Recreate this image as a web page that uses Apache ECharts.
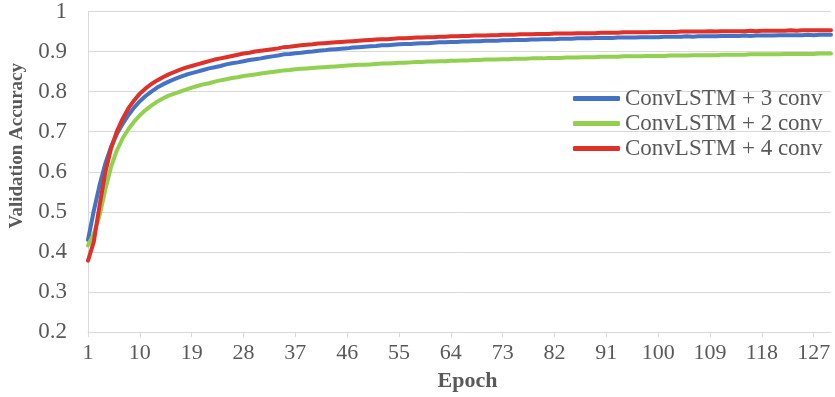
<!DOCTYPE html>
<html>
<head>
<meta charset="utf-8">
<script src="https://cdn.jsdelivr.net/npm/echarts@6/dist/echarts.min.js"></script>
<style>
  html, body { margin: 0; padding: 0; background: #fff; }
  #chart { width: 835px; height: 397px; }
</style>
</head>
<body>
<div id="chart"></div>
<script>
// Validation accuracy per training epoch for three ConvLSTM variants
const epochs = Array.from({ length: 130 }, (_, i) => String(i + 1));

const seriesNames = ['ConvLSTM + 3 conv', 'ConvLSTM + 2 conv', 'ConvLSTM + 4 conv'];

const conv3 = [
  0.430,0.502,0.566,0.620,0.662,0.694,0.719,0.741,0.760,0.776,
  0.789,0.800,0.810,0.818,0.825,0.831,0.837,0.842,0.846,0.850,
  0.854,0.858,0.861,0.864,0.868,0.871,0.873,0.876,0.879,0.881,
  0.883,0.886,0.888,0.890,0.893,0.894,0.896,0.897,0.899,0.900,
  0.902,0.903,0.905,0.906,0.907,0.908,0.910,0.911,0.912,0.913,
  0.914,0.916,0.916,0.917,0.918,0.919,0.919,0.920,0.921,0.921,
  0.922,0.923,0.923,0.924,0.924,0.925,0.925,0.926,0.926,0.927,
  0.927,0.927,0.928,0.928,0.929,0.929,0.929,0.930,0.930,0.931,
  0.931,0.931,0.932,0.932,0.932,0.933,0.933,0.933,0.934,0.934,
  0.934,0.934,0.935,0.935,0.935,0.935,0.936,0.936,0.936,0.936,
  0.937,0.937,0.937,0.937,0.938,0.937,0.938,0.938,0.938,0.938,
  0.939,0.939,0.939,0.939,0.940,0.939,0.940,0.940,0.940,0.940,
  0.941,0.941,0.941,0.941,0.941,0.942,0.941,0.942,0.942,0.942
];

const conv2 = [
  0.416,0.445,0.490,0.555,0.612,0.653,0.683,0.706,0.725,0.741,
  0.754,0.765,0.775,0.783,0.790,0.795,0.800,0.805,0.810,0.814,
  0.818,0.821,0.825,0.828,0.831,0.834,0.836,0.839,0.841,0.843,
  0.845,0.847,0.849,0.851,0.853,0.854,0.856,0.857,0.858,0.859,
  0.860,0.861,0.862,0.863,0.864,0.865,0.866,0.867,0.867,0.868,
  0.869,0.870,0.870,0.871,0.872,0.872,0.873,0.874,0.874,0.875,
  0.875,0.876,0.876,0.877,0.877,0.878,0.878,0.879,0.879,0.880,
  0.880,0.880,0.881,0.881,0.882,0.882,0.882,0.883,0.883,0.883,
  0.884,0.884,0.884,0.885,0.885,0.885,0.886,0.886,0.886,0.887,
  0.887,0.887,0.887,0.888,0.888,0.888,0.888,0.889,0.889,0.889,
  0.889,0.890,0.890,0.890,0.890,0.891,0.891,0.891,0.891,0.891,
  0.892,0.892,0.892,0.892,0.892,0.893,0.893,0.893,0.893,0.893,
  0.893,0.894,0.894,0.894,0.894,0.894,0.894,0.895,0.895,0.895
];

const conv4 = [
  0.378,0.425,0.515,0.598,0.658,0.700,0.732,0.758,0.778,0.795,
  0.808,0.819,0.828,0.836,0.843,0.849,0.855,0.860,0.864,0.868,
  0.872,0.876,0.880,0.883,0.886,0.889,0.892,0.895,0.897,0.900,
  0.902,0.904,0.906,0.908,0.911,0.912,0.914,0.916,0.917,0.918,
  0.920,0.921,0.922,0.923,0.924,0.925,0.926,0.927,0.928,0.929,
  0.930,0.931,0.931,0.932,0.933,0.933,0.934,0.935,0.935,0.936,
  0.936,0.937,0.937,0.938,0.938,0.939,0.939,0.940,0.940,0.940,
  0.941,0.941,0.942,0.942,0.942,0.943,0.943,0.943,0.944,0.944,
  0.944,0.945,0.945,0.945,0.945,0.946,0.946,0.946,0.946,0.947,
  0.947,0.947,0.947,0.948,0.948,0.948,0.948,0.948,0.949,0.949,
  0.949,0.949,0.949,0.950,0.950,0.950,0.950,0.950,0.951,0.950,
  0.951,0.951,0.951,0.951,0.951,0.952,0.951,0.952,0.952,0.952,
  0.952,0.952,0.953,0.952,0.953,0.953,0.953,0.953,0.953,0.953
];

const colors = ['#4472C4', '#92D050', '#E0302A'];
const FONT = '"Liberation Serif", "Times New Roman", serif';
const TEXT = '#595959';
const GRID = '#D9D9D9';

const chart = echarts.init(document.getElementById('chart'), null, { renderer: 'canvas' });

function lineSeries(name, data, color) {
  return {
    name: name,
    type: 'line',
    data: data,
    showSymbol: false,
    symbol: 'none',
    smooth: false,
    lineStyle: { width: 4, color: color, cap: 'round', join: 'round' },
    itemStyle: { color: color },
    animation: false
  };
}

chart.setOption({
  animation: false,
  backgroundColor: '#fff',
  grid: { left: 86, right: 4, top: 11, bottom: 63, containLabel: false },
  legend: {
    orient: 'vertical',
    left: 568,
    top: 82,
    icon: 'roundRect',
    itemWidth: 47,
    itemHeight: 5,
    itemGap: 2,
    textStyle: { fontFamily: FONT, fontSize: 23, color: TEXT, lineHeight: 23 },
    data: seriesNames
  },
  xAxis: {
    type: 'category',
    data: epochs,
    boundaryGap: false,
    name: 'Epoch',
    nameLocation: 'middle',
    nameGap: 38,
    nameTextStyle: { fontFamily: FONT, fontSize: 22, fontWeight: 'bold', color: TEXT, padding: [0, 0, 0, 16] },
    axisLine: { show: true, lineStyle: { color: GRID, width: 1 } },
    axisTick: { show: true, interval: 8, length: 5, lineStyle: { color: GRID } },
    axisLabel: { interval: 8, margin: 10, fontFamily: FONT, fontSize: 22, color: TEXT },
    splitLine: { show: false }
  },
  yAxis: {
    type: 'value',
    min: 0.2,
    max: 1,
    interval: 0.1,
    name: 'Validation Accuracy',
    nameLocation: 'middle',
    nameGap: 61,
    nameTextStyle: { fontFamily: FONT, fontSize: 19, fontWeight: 'bold', color: TEXT, padding: [0, 0, 0, 52] },
    axisLine: { show: true, lineStyle: { color: GRID, width: 1 } },
    axisTick: { show: false },
    axisLabel: {
      margin: 21,
      fontFamily: FONT,
      fontSize: 23,
      color: TEXT,
      formatter: v => String(Math.round(v * 10) / 10)
    },
    splitLine: { show: true, lineStyle: { color: GRID, width: 1 } }
  },
  series: [
    lineSeries(seriesNames[0], conv3, colors[0]),
    lineSeries(seriesNames[1], conv2, colors[1]),
    lineSeries(seriesNames[2], conv4, colors[2])
  ]
});
</script>
</body>
</html>
